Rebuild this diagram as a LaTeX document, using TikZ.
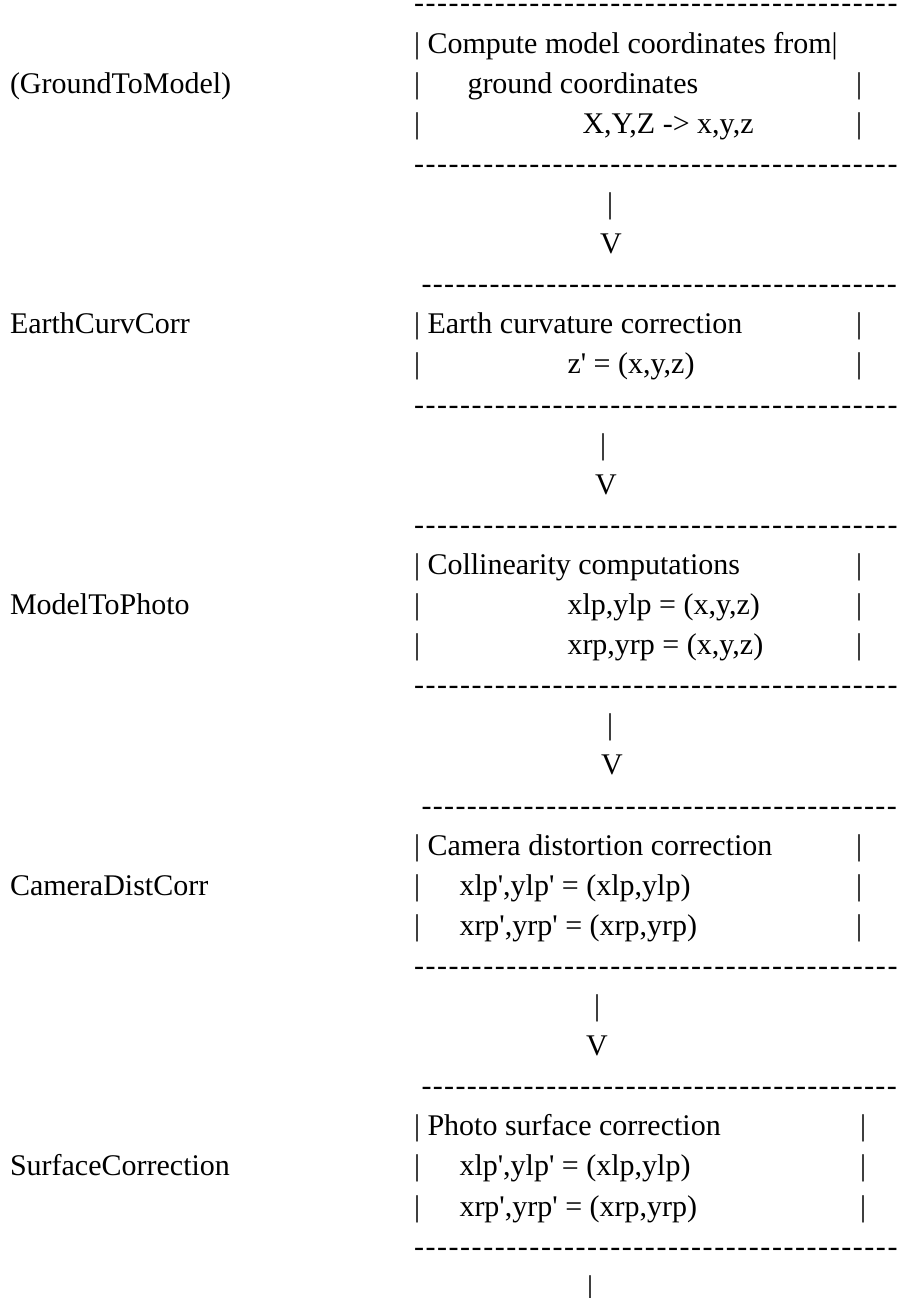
\documentclass[tikz,border=0pt]{standalone}
\usepackage{fontspec}
\setmainfont{Liberation Serif}
\newcommand\hyone[1]{\makebox[#1][l]{-}}
\newcommand\hyten[1]{\hyone{#1}\hyone{#1}\hyone{#1}\hyone{#1}\hyone{#1}\hyone{#1}\hyone{#1}\hyone{#1}\hyone{#1}\hyone{#1}}
% 41 boxed hyphens and a last one
\newcommand\hyrow[1]{\hyten{#1}\hyten{#1}\hyten{#1}\hyten{#1}\hyone{#1}-}
\newcommand\qs{\textquotesingle}
\tikzset{
  txt/.style={anchor=base west, inner sep=0pt, outer sep=0pt, font=\fontsize{30pt}{36pt}\selectfont},
  dashrow/.style={txt}
}
\begin{document}
\begin{tikzpicture}[x=1pt,y=-1pt]
\useasboundingbox (0,0) rectangle (898,1298);
% box 1
\node[dashrow] (d0) at (414,{13+40.1*0}) {\hyrow{11.55pt}};
\node[txt] (t1) at (414,{13+40.1*1}) {| Compute model coordinates from|};
\node[txt] (lab1) at (10,{13+40.1*2}) {(GroundToModel)};
\node[txt] (l2) at (414,{13+40.1*2}) {|};
\node[txt] (t2) at (467.5,{13+40.1*2}) {ground coordinates};
\node[txt] (r2) at (856,{13+40.1*2}) {|};
\node[txt] (l3) at (414,{13+40.1*3}) {|};
\node[txt] (t3) at (582.5,{13+40.1*3}) {X,Y,Z -> x,y,z};
\node[txt] (r3) at (856,{13+40.1*3}) {|};
\node[dashrow] (d4) at (414,{13+40.1*4}) {\hyrow{11.55pt}};
\node[txt] (a5) at (607,{13+40.1*5}) {|};
\node[txt] (v6) at (600,{13+40.1*6}) {V};
% box 2
\node[dashrow] (d7) at (421.5,{13+40.1*7}) {\hyrow{11.35pt}};
\node[txt] (lab2) at (10,{13+40.1*8}) {EarthCurvCorr};
\node[txt] (t8) at (414,{13+40.1*8}) {| Earth curvature correction};
\node[txt] (r8) at (856,{13+40.1*8}) {|};
\node[txt] (l9) at (414,{13+40.1*9}) {|};
\node[txt] (t9) at (567.5,{13+40.1*9}) {z\qs{} = (x,y,z)};
\node[txt] (r9) at (856,{13+40.1*9}) {|};
\node[dashrow] (d10) at (414,{13+40.1*10}) {\hyrow{11.55pt}};
\node[txt] (a11) at (600,{13+40.1*11}) {|};
\node[txt] (v12) at (595,{13+40.1*12}) {V};
% box 3
\node[dashrow] (d13) at (414,{13+40.1*13}) {\hyrow{11.55pt}};
\node[txt] (t14) at (414,{13+40.1*14}) {| Collinearity computations};
\node[txt] (r14) at (856,{13+40.1*14}) {|};
\node[txt] (lab3) at (10,{13+40.1*15}) {ModelToPhoto};
\node[txt] (l15) at (414,{13+40.1*15}) {|};
\node[txt] (t15) at (567.5,{13+40.1*15}) {xlp,ylp = (x,y,z)};
\node[txt] (r15) at (856,{13+40.1*15}) {|};
\node[txt] (l16) at (414,{13+40.1*16}) {|};
\node[txt] (t16) at (567.5,{13+40.1*16}) {xrp,yrp = (x,y,z)};
\node[txt] (r16) at (856,{13+40.1*16}) {|};
\node[dashrow] (d17) at (414,{13+40.1*17}) {\hyrow{11.55pt}};
\node[txt] (a18) at (607,{13+40.1*18}) {|};
\node[txt] (v19) at (601,{13+40.1*19}) {V};
% box 4
\node[dashrow] (d20) at (421.5,{13+40.1*20}) {\hyrow{11.35pt}};
\node[txt] (t21) at (414,{13+40.1*21}) {| Camera distortion correction};
\node[txt] (r21) at (856,{13+40.1*21}) {|};
\node[txt] (lab4) at (10,{13+40.1*22}) {CameraDistCorr};
\node[txt] (l22) at (414,{13+40.1*22}) {|};
\node[txt] (t22) at (459.5,{13+40.1*22}) {xlp\qs,ylp\qs{} = (xlp,ylp)};
\node[txt] (r22) at (856,{13+40.1*22}) {|};
\node[txt] (l23) at (414,{13+40.1*23}) {|};
\node[txt] (t23) at (459.5,{13+40.1*23}) {xrp\qs,yrp\qs{} = (xrp,yrp)};
\node[txt] (r23) at (856,{13+40.1*23}) {|};
\node[dashrow] (d24) at (414,{13+40.1*24}) {\hyrow{11.55pt}};
\node[txt] (a25) at (594,{13+40.1*25}) {|};
\node[txt] (v26) at (586,{13+40.1*26}) {V};
% box 5
\node[dashrow] (d27) at (421.5,{13+40.1*27}) {\hyrow{11.35pt}};
\node[txt] (t28) at (414,{13+40.1*28}) {| Photo surface correction};
\node[txt] (r28) at (860,{13+40.1*28}) {|};
\node[txt] (lab5) at (10,{13+40.1*29}) {SurfaceCorrection};
\node[txt] (l29) at (414,{13+40.1*29}) {|};
\node[txt] (t29) at (459.5,{13+40.1*29}) {xlp\qs,ylp\qs{} = (xlp,ylp)};
\node[txt] (r29) at (860,{13+40.1*29}) {|};
\node[txt] (l30) at (414,{13+40.1*30}) {|};
\node[txt] (t30) at (459.5,{13+40.1*30}) {xrp\qs,yrp\qs{} = (xrp,yrp)};
\node[txt] (r30) at (860,{13+40.1*30}) {|};
\node[dashrow] (d31) at (414,{13+40.1*31}) {\hyrow{11.55pt}};
\node[txt] (a32) at (587,{1296}) {|};
\end{tikzpicture}
\end{document}
